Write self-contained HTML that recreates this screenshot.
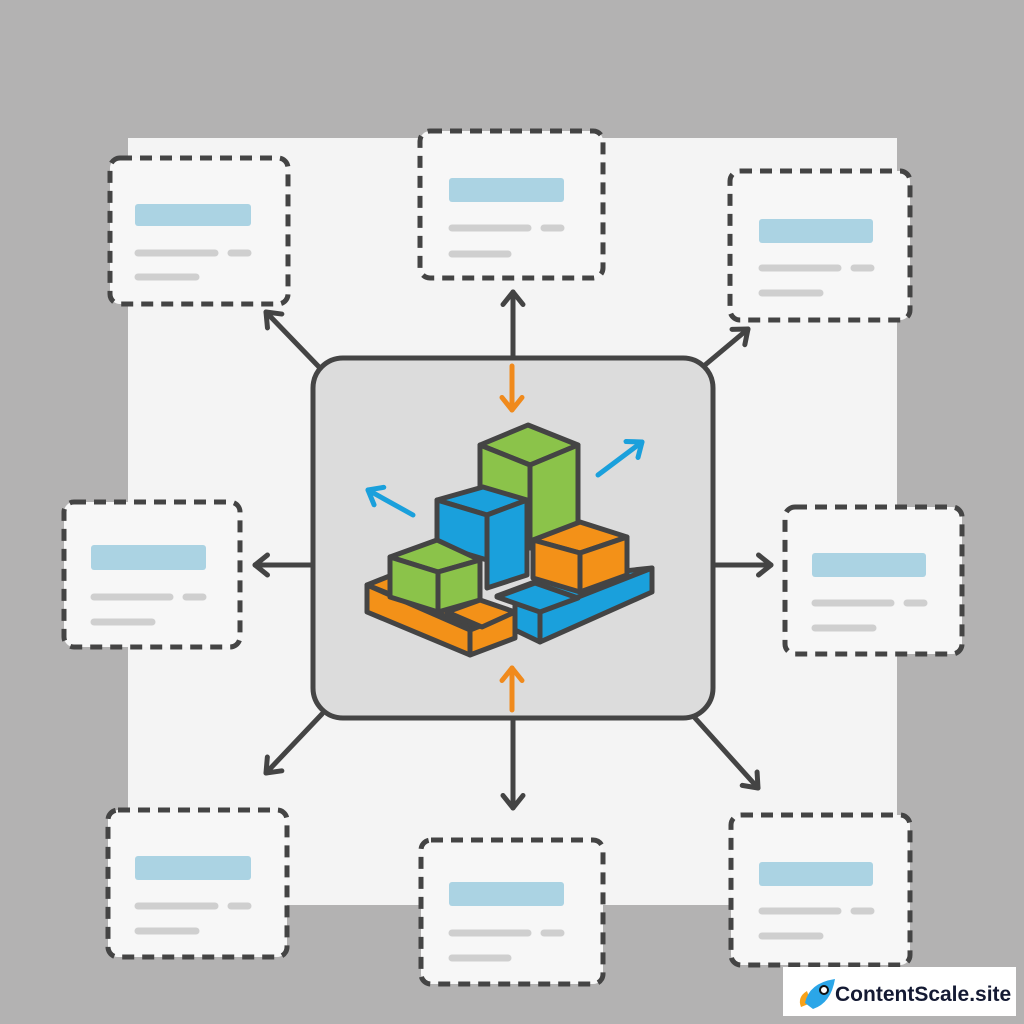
<!DOCTYPE html>
<html><head><meta charset="utf-8"><style>
html,body{margin:0;padding:0;background:#b3b2b2;}
svg{display:block}
</style></head><body>
<svg width="1024" height="1024" viewBox="0 0 1024 1024" xmlns="http://www.w3.org/2000/svg">
<rect width="1024" height="1024" fill="#b3b2b2"/>
<rect x="128" y="138" width="769" height="767" fill="#f4f4f4"/>
<defs>
<marker id="ah" viewBox="0 0 10 10" refX="6" refY="5" markerWidth="5" markerHeight="5" orient="auto-start-reverse">
<path d="M1,1 L6,5 L1,9" fill="none" stroke="#444" stroke-width="2" stroke-linecap="round" stroke-linejoin="round"/></marker>
<marker id="ao" viewBox="0 0 10 10" refX="6" refY="5" markerWidth="5" markerHeight="5" orient="auto">
<path d="M1,1 L6,5 L1,9" fill="none" stroke="#f08a1c" stroke-width="2" stroke-linecap="round" stroke-linejoin="round"/></marker>
<marker id="ab" viewBox="0 0 10 10" refX="6" refY="5" markerWidth="5" markerHeight="5" orient="auto">
<path d="M1,1 L6,5 L1,9" fill="none" stroke="#1aa0dc" stroke-width="2" stroke-linecap="round" stroke-linejoin="round"/></marker>
</defs>

<g fill="#f7f7f7" stroke="#444" stroke-width="5" stroke-dasharray="12 8">
<rect x="110" y="158" width="178" height="146" rx="10"/>
<rect x="420" y="131" width="183" height="147" rx="10"/>
<rect x="730" y="171" width="180" height="149" rx="10"/>
<rect x="64" y="502" width="176" height="145" rx="10"/>
<rect x="785" y="507" width="177" height="147" rx="10"/>
<rect x="108" y="810" width="179" height="147" rx="10"/>
<rect x="421" y="840" width="182" height="144" rx="10"/>
<rect x="731" y="815" width="179" height="150" rx="10"/>
</g>
<g fill="#abd3e3">
<rect x="135" y="204" width="116" height="22" rx="3"/>
<rect x="449" y="178" width="115" height="24" rx="3"/>
<rect x="759" y="219" width="114" height="24" rx="3"/>
<rect x="91" y="545" width="115" height="25" rx="3"/>
<rect x="812" y="553" width="114" height="24" rx="3"/>
<rect x="135" y="856" width="116" height="24" rx="3"/>
<rect x="449" y="882" width="115" height="24" rx="3"/>
<rect x="759" y="862" width="114" height="24" rx="3"/>
</g>
<g stroke="#cfcfcf" stroke-width="7" stroke-linecap="round">
<path d="M138 253H215M231 253H248M138 277H196"/>
<path d="M452 228H528M544 228H561M452 254H508"/>
<path d="M762 268H838M854 268H871M762 293H820"/>
<path d="M94 597H170M186 597H203M94 622H152"/>
<path d="M815 603H891M907 603H924M815 628H873"/>
<path d="M138 906H215M231 906H248M138 931H196"/>
<path d="M452 933H528M544 933H561M452 958H508"/>
<path d="M762 911H838M854 911H871M762 936H820"/>
</g>

<g stroke="#444" stroke-width="5" stroke-linecap="round" fill="none">
<line x1="320" y1="368" x2="266" y2="312" marker-end="url(#ah)"/>
<line x1="513" y1="360" x2="513" y2="292" marker-end="url(#ah)"/>
<line x1="705" y1="365" x2="748" y2="329" marker-end="url(#ah)"/>
<line x1="313" y1="565" x2="255" y2="565" marker-end="url(#ah)"/>
<line x1="713" y1="565" x2="771" y2="565" marker-end="url(#ah)"/>
<line x1="322" y1="714" x2="266" y2="773" marker-end="url(#ah)"/>
<line x1="513" y1="718" x2="513" y2="808" marker-end="url(#ah)"/>
<line x1="695" y1="718" x2="758" y2="788" marker-end="url(#ah)"/>
</g>

<rect x="313" y="358" width="400" height="360" rx="30" fill="#dcdcdc" stroke="#444" stroke-width="5"/>

<g stroke-width="5" stroke-linecap="round" fill="none">
<line x1="512" y1="366" x2="512" y2="410" stroke="#f08a1c" marker-end="url(#ao)"/>
<line x1="512" y1="710" x2="512" y2="668" stroke="#f08a1c" marker-end="url(#ao)"/>
<line x1="413" y1="515" x2="368" y2="490" stroke="#1aa0dc" marker-end="url(#ab)"/>
<line x1="598" y1="475" x2="642" y2="442" stroke="#1aa0dc" marker-end="url(#ab)"/>
</g>

<g stroke="#444" stroke-width="5" stroke-linejoin="round">
<!-- tall green -->
<polygon points="480,445 528,425 578,445 530,465" fill="#8bc34a"/>
<polygon points="480,445 530,465 530,540 480,520" fill="#8bc34a"/>
<polygon points="530,465 578,445 578,525 530,548" fill="#8bc34a"/>
<!-- base slabs -->
<polygon points="367,585 392,575 520,625 495,636" fill="#f39118"/>
<polygon points="367,585 470,630 470,655 367,612" fill="#f39118"/>
<polygon points="470,630 515,612 515,638 470,655" fill="#f39118"/>
<polygon points="497,596 540,580 652,568 652,590 540,612" fill="#1aa0dc"/>
<polygon points="540,612 652,568 652,592 540,642" fill="#1aa0dc"/>
<polygon points="515,600 540,612 540,642 515,630" fill="#1aa0dc"/>
<!-- blue mid cube -->
<polygon points="437,500 483,487 527,500 487,515" fill="#1aa0dc"/>
<polygon points="437,500 487,515 487,560 437,545" fill="#1aa0dc"/>
<polygon points="487,515 527,500 527,575 487,588" fill="#1aa0dc"/>
<!-- orange right cube -->
<polygon points="533,540 580,522 627,537 580,553" fill="#f39118"/>
<polygon points="533,540 580,553 580,592 533,578" fill="#f39118"/>
<polygon points="580,553 627,537 627,575 580,592" fill="#f39118"/>
<!-- blue front top -->
<polygon points="497,597 535,583 578,598 540,612" fill="#1aa0dc"/>
<!-- small green -->
<polygon points="390,557 437,540 480,560 438,572" fill="#8bc34a"/>
<polygon points="390,557 438,572 438,612 390,597" fill="#8bc34a"/>
<polygon points="438,572 480,560 480,600 438,612" fill="#8bc34a"/>
<!-- orange front small -->
<polygon points="447,612 480,600 515,612 482,627" fill="#f39118"/>
</g>

<rect x="783" y="967" width="233" height="49" fill="#ffffff"/>
<g transform="translate(793,973)">
<path d="M8,34 Q4,24 14,18 L18,30 Z" fill="#f7a21b"/>
<path d="M12,30 Q16,10 42,6 Q38,30 20,36 Z" fill="#2ba6e8"/>
<circle cx="31" cy="17" r="4" fill="#fff" stroke="#111" stroke-width="2"/>
</g>
<text x="835" y="1001" font-family="Liberation Sans, sans-serif" font-weight="bold" font-size="21" fill="#141a33">ContentScale.site</text>
</svg>
</body></html>
